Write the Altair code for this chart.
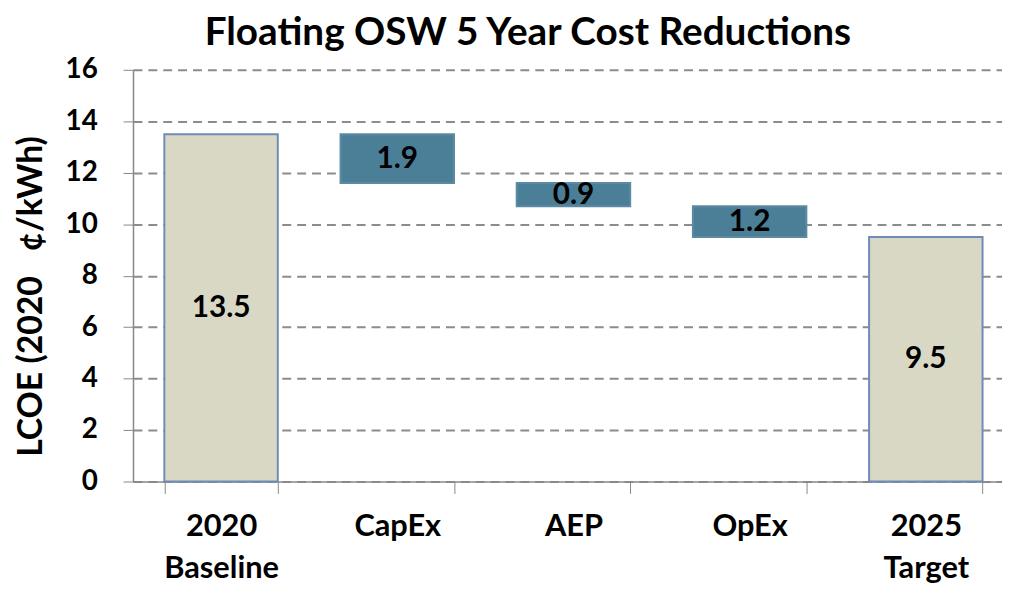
import altair as alt
import pandas as pd

categories = ["2020|Baseline", "CapEx", "AEP", "OpEx", "2025|Target"]
low = [0.0, 11.6, 10.7, 9.5, 0.0]
high = [13.5, 13.5, 11.6, 10.7, 9.5]
labels = ["13.5", "1.9", "0.9", "1.2", "9.5"]
kinds = ["total", "step", "step", "step", "total"]

df = pd.DataFrame({"cat": categories, "low": low, "high": high,
                   "label": labels, "kind": kinds})

FONT = "Lato"

x_scale = alt.Scale(paddingInner=0.356, paddingOuter=0.178, range=[0, 888])

x = alt.X("cat:N", sort=categories, title=None, scale=x_scale,
          axis=alt.Axis(labelAngle=0, labelFont=FONT, labelFontSize=31,
                        labelFontWeight="bold", labelColor="#000",
                        labelExpr="split(datum.label, '|')",
                        labelLineHeight=43, labelPadding=18,
                        tickBand="extent", tickSize=12, tickColor="#888",
                        domainColor="#888", domainWidth=1.5, grid=False,
                        labelBaseline="top"))

y_scale = alt.Scale(domain=[0, 16], nice=False)
y_axis = alt.Axis(values=list(range(0, 17, 2)),
                  title="LCOE (2020\u00a0\u00a0 ¢/kWh)",
                  titleFont=FONT, titleFontSize=34, titleFontWeight="bold",
                  titleColor="#000", titleAngle=270, titleBaseline="middle",
                  titleX=-102, titleY=228,
                  labelFont=FONT, labelFontSize=28, labelFontWeight="bold",
                  labelColor="#000", labelPadding=26,
                  tickSize=10, tickColor="#888", domainColor="#888",
                  domainWidth=1.5, grid=True, gridColor="#8c8c8c",
                  gridDash=[9, 6], gridWidth=2)

bars = alt.Chart(df).mark_bar(strokeWidth=2).encode(
    x=x,
    y=alt.Y("low:Q", scale=y_scale, axis=y_axis),
    y2="high:Q",
    color=alt.Color("kind:N", scale=alt.Scale(domain=["total", "step"],
                    range=["#d9d8c5", "#4b7f97"]), legend=None),
    stroke=alt.Stroke("kind:N", scale=alt.Scale(domain=["total", "step"],
                      range=["#6f8cb8", "#5b8aa2"]), legend=None),
)

text = alt.Chart(df).transform_calculate(
    mid="(datum.low + datum.high) / 2"
).mark_text(font=FONT, fontSize=30, fontWeight="bold", color="#000",
            baseline="middle").encode(
    x=alt.X("cat:N", sort=categories, scale=x_scale),
    y=alt.Y("mid:Q", scale=y_scale),
    text="label:N",
)

chart = (bars + text).properties(
    width=876, height=415,
    title=alt.TitleParams("Floating OSW 5 Year Cost Reductions", font=FONT,
                          fontSize=39, fontWeight="bold", color="#000",
                          anchor="middle", dx=-40, offset=3),
    padding={"left": 126, "top": 60, "right": 0, "bottom": 101},
    autosize=alt.AutoSizeParams(type="none"),
).configure_view(stroke=None)

chart.save("out.html", embed_options={"renderer": "svg", "actions": False})
